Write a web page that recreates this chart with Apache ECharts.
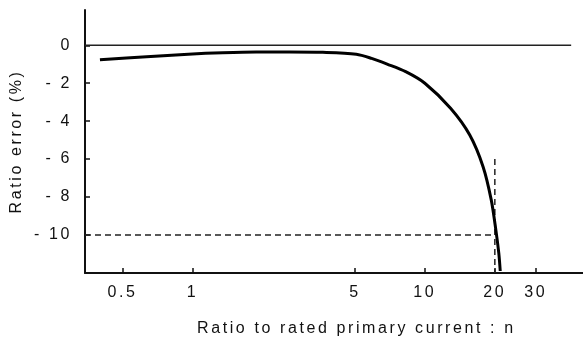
<!DOCTYPE html>
<html><head><meta charset="utf-8">
<script src="https://cdn.jsdelivr.net/npm/echarts@6/dist/echarts.min.js"></script>
<style>html,body{margin:0;padding:0;background:#fff}#c{width:583px;height:342px}</style>
</head><body><div id="c"></div>
<script>
// ---- data ----
const xTicks = [0.5, 1, 5, 10, 20, 30];
const yTicks = [0, -2, -4, -6, -8, -10];
const curveN   = [0.40, 0.635, 0.96, 1.35, 1.88, 2.61, 3.64, 5.07, 5.90, 6.88, 8.27, 10.0, 12.9, 15.6, 17.8, 19.3, 20.2, 20.8, 21.1];
const curveErr = [-0.76, -0.60, -0.47, -0.39, -0.35, -0.35, -0.37, -0.47, -0.69, -0.99, -1.39, -2.0, -3.32, -4.73, -6.40, -8.15, -9.73, -10.96, -11.9];
const limitErr = -10;   // ratio-error limit (%)
const limitN = 20;      // accuracy limit factor
const limitTopErr = -6; // top of the vertical dashed guide
const zeroLineEnd = 42.6;
const xName = 'Ratio to rated primary current : n';
const yName = 'Ratio error (%)';

const xMin = 0.345, xMax = 47.9, yMin = -12, yMax = 1.86;
const ink = '#111';
const font = 'Liberation Sans, Arial, Helvetica, sans-serif';

// wide letter spacing for the two axis titles only
(function () {
  const proto = CanvasRenderingContext2D.prototype;
  const orig = proto.fillText;
  proto.fillText = function (text) {
    if (text === xName || text === yName) {
      const prev = this.letterSpacing;
      this.letterSpacing = '2.6px';
      const r = orig.apply(this, arguments);
      this.letterSpacing = prev;
      return r;
    }
    return orig.apply(this, arguments);
  };
})();

const chart = echarts.init(document.getElementById('c'), null, {renderer: 'canvas'});
chart.setOption({
  animation: false,
  grid: {left: 85, right: 0, top: 10, bottom: 69.1},
  graphic: [
    {type: 'text', left: 197, top: 321, silent: true,
      style: {text: xName, fill: ink, font: '16px ' + font}}
  ],
  xAxis: {
    type: 'log', min: xMin, max: xMax,
    axisLine: {show: true, onZero: false, lineStyle: {color: ink, width: 2}},
    axisTick: {show: true, inside: true, length: 5, lineStyle: {color: ink, width: 1.5}, customValues: xTicks},
    axisLabel: {color: ink, fontSize: 16, margin: 12, customValues: xTicks},
    splitLine: {show: false}
  },
  yAxis: {
    type: 'value', min: yMin, max: yMax,
    name: yName, nameLocation: 'middle', nameGap: 60, nameRotate: 90,
    nameTextStyle: {color: ink, fontSize: 16, fontFamily: font},
    axisLine: {show: true, onZero: false, lineStyle: {color: ink, width: 2}},
    axisTick: {show: true, inside: true, length: 5, lineStyle: {color: ink, width: 1.5}, customValues: yTicks},
    axisLabel: {color: ink, fontSize: 16, margin: 13, customValues: yTicks,
      formatter: v => v === 0 ? '0' : '- ' + Math.abs(v)},
    splitLine: {show: false}
  },
  series: [
    {type: 'line', name: 'zero', data: [[xMin, 0], [zeroLineEnd, 0]], symbol: 'none',
      lineStyle: {color: '#222', width: 1.5}, silent: true},
    {type: 'line', name: 'limitH', data: [[xMin, limitErr], [limitN, limitErr]], symbol: 'none',
      lineStyle: {color: '#222', width: 1.5, type: [6, 4]}, silent: true},
    {type: 'line', name: 'limitV', data: [[limitN, limitTopErr], [limitN, yMin]], symbol: 'none',
      lineStyle: {color: '#222', width: 1.5, type: [6, 4]}, silent: true},
    {type: 'line', name: 'ratio error', data: curveN.map((n, i) => [n, curveErr[i]]),
      symbol: 'none', smooth: 0.3, lineStyle: {color: '#000', width: 3}}
  ]
});
</script>
</body></html>
